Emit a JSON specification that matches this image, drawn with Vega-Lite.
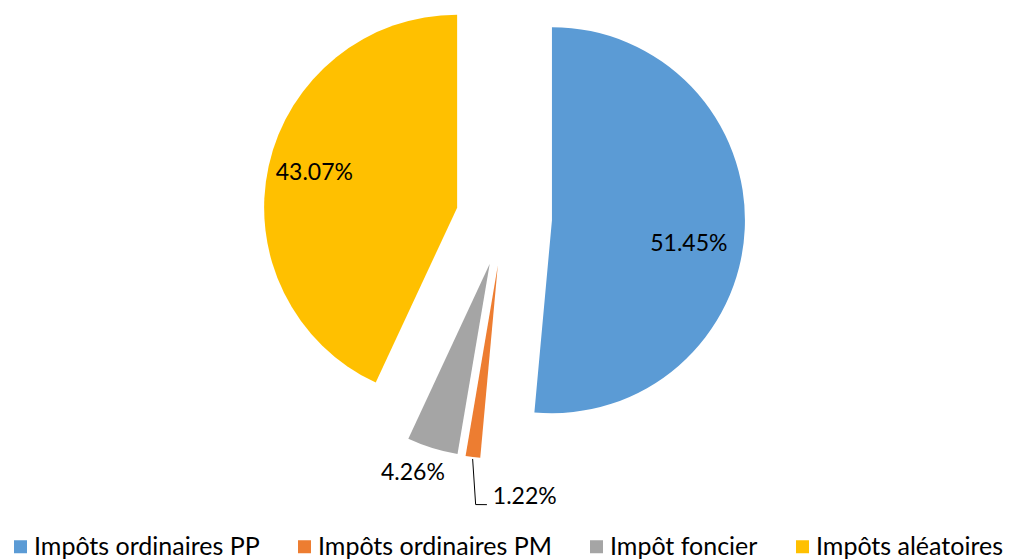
{
  "$schema": "https://vega.github.io/schema/vega-lite/v6.json",
  "width": 1010,
  "height": 560,
  "padding": 0,
  "autosize": {"type": "none"},
  "background": "white",
  "config": {"view": {"stroke": null}, "font": "Lato"},
  "data": {
    "values": [
      {"category": "Impôts ordinaires PP", "value": 51.45, "order": 1},
      {"category": "Impôts ordinaires PM", "value": 1.22, "order": 2},
      {"category": "Impôt foncier", "value": 4.26, "order": 3},
      {"category": "Impôts aléatoires", "value": 43.07, "order": 4}
    ]
  },
  "transform": [
    {"joinaggregate": [{"op": "sum", "field": "value", "as": "total"}]},
    {"window": [{"op": "sum", "field": "value", "as": "cum"}], "sort": [{"field": "order"}], "frame": [null, 0]},
    {"calculate": "2*PI*(datum.cum - datum.value/2)/datum.total", "as": "mid"},
    {"calculate": "sin(datum.mid)", "as": "ox"},
    {"calculate": "cos(datum.mid)", "as": "oy"},
    {"calculate": "format(datum.value, '.2f') + '%'", "as": "label"}
  ],
  "layer": [
    {
      "mark": {"type": "arc", "radius": 193},
      "encoding": {
        "theta": {"field": "value", "type": "quantitative", "stack": true},
        "order": {"field": "order", "type": "quantitative"},
        "color": {
          "field": "category",
          "type": "nominal",
          "scale": {
            "domain": ["Impôts ordinaires PP", "Impôts ordinaires PM", "Impôt foncier", "Impôts aléatoires"],
            "range": ["#5B9BD5", "#ED7D31", "#A5A5A5", "#FFC000"]
          },
          "legend": {
            "title": null,
            "orient": "none",
            "direction": "horizontal",
            "legendX": 8,
            "legendY": 534,
            "symbolType": "square",
            "symbolSize": 169,
            "symbolStrokeWidth": 0,
            "labelFontSize": 25,
            "labelFont": "Lato",
            "labelColor": "black",
            "columnPadding": 32,
            "labelOffset": 1,
            "labelLimit": 0
          }
        },
        "x": {"field": "ox", "type": "quantitative", "scale": {"domain": [-10.5, 10.5417], "nice": false, "zero": false}, "axis": null},
        "y": {"field": "oy", "type": "quantitative", "scale": {"domain": [-7.125, 4.5417], "nice": false, "zero": false}, "axis": null}
      }
    },
    {
      "transform": [
        {"filter": "datum.order == 1"},
        {"calculate": "datum.ox + sin(datum.mid + 0.129) * 139 / 48", "as": "lx"},
        {"calculate": "datum.oy + cos(datum.mid + 0.129) * 139 / 48", "as": "ly"}
      ],
      "mark": {"type": "text", "fontSize": 23, "font": "Lato", "color": "black", "align": "center", "baseline": "middle"},
      "encoding": {
        "x": {"field": "lx", "type": "quantitative", "scale": {"domain": [-10.5, 10.5417], "nice": false, "zero": false}, "axis": null},
        "y": {"field": "ly", "type": "quantitative", "scale": {"domain": [-7.125, 4.5417], "nice": false, "zero": false}, "axis": null},
        "text": {"field": "label"}
      }
    },
    {
      "transform": [
        {"filter": "datum.order == 4"},
        {"calculate": "datum.ox + sin(datum.mid + 0.023) * 147 / 48", "as": "lx"},
        {"calculate": "datum.oy + cos(datum.mid + 0.023) * 147 / 48", "as": "ly"}
      ],
      "mark": {"type": "text", "fontSize": 23, "font": "Lato", "color": "black", "align": "center", "baseline": "middle"},
      "encoding": {
        "x": {"field": "lx", "type": "quantitative", "scale": {"domain": [-10.5, 10.5417], "nice": false, "zero": false}, "axis": null},
        "y": {"field": "ly", "type": "quantitative", "scale": {"domain": [-7.125, 4.5417], "nice": false, "zero": false}, "axis": null},
        "text": {"field": "label"}
      }
    },
    {
      "transform": [
        {"filter": "datum.order == 3"},
        {"calculate": "datum.ox + sin(datum.mid + 0.05) * 223 / 48", "as": "lx"},
        {"calculate": "datum.oy + cos(datum.mid + 0.05) * 223 / 48", "as": "ly"}
      ],
      "mark": {"type": "text", "fontSize": 23, "font": "Lato", "color": "black", "align": "center", "baseline": "middle"},
      "encoding": {
        "x": {"field": "lx", "type": "quantitative", "scale": {"domain": [-10.5, 10.5417], "nice": false, "zero": false}, "axis": null},
        "y": {"field": "ly", "type": "quantitative", "scale": {"domain": [-7.125, 4.5417], "nice": false, "zero": false}, "axis": null},
        "text": {"field": "label"}
      }
    },
    {
      "transform": [
        {"filter": "datum.order == 2"},
        {"calculate": "datum.ox + sin(datum.mid - 0.108) * 231 / 48", "as": "lx"},
        {"calculate": "datum.oy + cos(datum.mid - 0.108) * 231 / 48", "as": "ly"}
      ],
      "mark": {"type": "text", "fontSize": 23, "font": "Lato", "color": "black", "align": "left", "baseline": "middle"},
      "encoding": {
        "x": {"field": "lx", "type": "quantitative", "scale": {"domain": [-10.5, 10.5417], "nice": false, "zero": false}, "axis": null},
        "y": {"field": "ly", "type": "quantitative", "scale": {"domain": [-7.125, 4.5417], "nice": false, "zero": false}, "axis": null},
        "text": {"field": "label"}
      }
    },
    {
      "transform": [
        {"filter": "datum.order == 2"},
        {"calculate": "datum.ox + sin(datum.mid) * 195 / 48", "as": "sx"},
        {"calculate": "datum.oy + cos(datum.mid) * 195 / 48", "as": "sy"},
        {"calculate": "datum.ox + sin(datum.mid - 0.037) * 240 / 48", "as": "cx"},
        {"calculate": "datum.oy + cos(datum.mid - 0.037) * 240 / 48", "as": "cy"},
        {"calculate": "datum.ox + sin(datum.mid - 0.084) * 239.3 / 48", "as": "ex"},
        {"calculate": "datum.oy + cos(datum.mid - 0.084) * 239.3 / 48", "as": "ey"}
      ],
      "layer": [
        {
          "mark": {"type": "rule", "color": "black", "strokeWidth": 1},
          "encoding": {
            "x": {"field": "sx", "type": "quantitative", "scale": {"domain": [-10.5, 10.5417], "nice": false, "zero": false}, "axis": null},
            "y": {"field": "sy", "type": "quantitative", "scale": {"domain": [-7.125, 4.5417], "nice": false, "zero": false}, "axis": null},
            "x2": {"field": "cx"},
            "y2": {"field": "cy"}
          }
        },
        {
          "mark": {"type": "rule", "color": "black", "strokeWidth": 1},
          "encoding": {
            "x": {"field": "cx", "type": "quantitative", "scale": {"domain": [-10.5, 10.5417], "nice": false, "zero": false}, "axis": null},
            "y": {"field": "cy", "type": "quantitative", "scale": {"domain": [-7.125, 4.5417], "nice": false, "zero": false}, "axis": null},
            "x2": {"field": "ex"},
            "y2": {"field": "ey"}
          }
        }
      ]
    }
  ]
}
